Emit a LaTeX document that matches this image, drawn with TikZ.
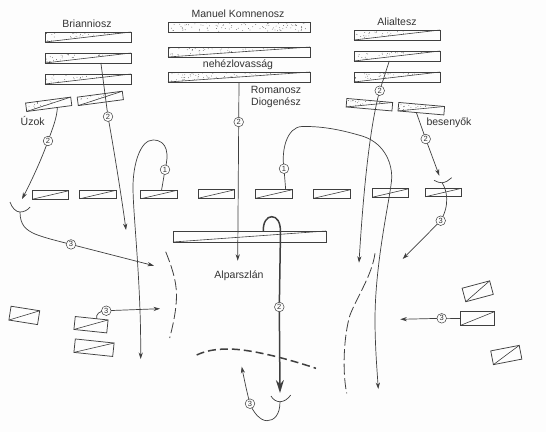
\documentclass[tikz,border=0pt]{standalone}
\usepackage{fontspec}
\setmainfont{Liberation Sans}
\usetikzlibrary{arrows.meta,calc,backgrounds}
\definecolor{ln}{HTML}{3F3F3F}
\definecolor{txt}{HTML}{333333}
\definecolor{paper}{HTML}{FDFDFD}
\tikzset{
  blockbox/.style={draw=ln,line width=.75pt,inner sep=0pt,outer sep=0pt,fill=none},
  diag/.style={draw=ln,line width=.6pt},
  conn/.style={draw=ln,line width=.7pt},
  tip/.style={-{Stealth[length=6.5pt,width=4.2pt]}},
  thickconn/.style={draw=ln,line width=1.5pt},
  num/.style={circle,draw=ln,fill=paper,line width=.5pt,inner sep=0pt,minimum size=9.6pt,font=\fontsize{7.5}{8}\selectfont,text=txt},
  lab/.style={font=\fontsize{10.5}{12}\selectfont,text=txt,inner sep=0pt},
  front/.style={draw=ln,line width=.8pt,dash pattern=on 11pt off 3.5pt},
  frontb/.style={draw=ln,line width=1.5pt,dash pattern=on 8pt off 4pt},
}
% name, centre, width, height, rotation, 0 plain / 1 dotted triangle / 2 dotted full
\newcommand{\blk}[6]{%
  \node[blockbox,minimum width=#3pt,minimum height=#4pt,rotate=#5] (#1) at (#2) {};
  \ifnum#6<2 \draw[diag] (#1.south west) -- (#1.north east);\fi
  \ifnum#6>0
  \begin{scope}[shift={(#1.center)},rotate=#5]
    \pgfmathtruncatemacro{\nd}{#3*#4/16}
    \foreach \i in {1,...,\nd}{
      \pgfmathsetmacro{\dx}{(rnd-.5)*(#3-1.5)}
      \pgfmathsetmacro{\dy}{(rnd-.5)*(#4-1.5)}
      \pgfmathtruncatemacro{\keep}{(#6==2)||(\dy/(#4)>\dx/(#3)+.04)?1:0}
      \ifnum\keep=1 \fill[ln] (\dx pt,\dy pt) circle (.38pt);\fi
    }
  \end{scope}
  \fi
}
\begin{document}
\begin{tikzpicture}[x=1pt,y=-1pt]
\useasboundingbox (0,0) rectangle (546,432);
\pgfmathsetseed{4711}
% numbered circles
\node[num] (n1) at (48,141) {2};
\node[num] (n2) at (108,116.7) {2};
\node[num] (n3) at (165,169.7) {1};
\node[num] (n4) at (238.7,122) {2};
\node[num] (n5) at (284,168.7) {1};
\node[num] (n6) at (379.7,90.7) {2};
\node[num] (n7) at (425.7,139) {2};
\node[num] (n8) at (71,244.4) {3};
\node[num] (n9) at (440.7,220.7) {3};
\node[num] (n10) at (106.3,310.7) {3};
\node[num] (n11) at (441.7,318.3) {3};
\node[num] (n12) at (279.3,307) {2};
\node[num] (n13) at (250,403.7) {3};
% labels
\node[lab] (t1) at (87,24) {Brianniosz};
\node[lab] (t2) at (32.7,121) {Úzok};
\node[lab] (t3) at (238,14) {Manuel Komnenosz};
\node[lab] (t4) at (238,65) {nehézlovasság};
\node[lab] (t5) at (276,90) {Romanosz};
\node[lab] (t6) at (276,103) {Diogenész};
\node[lab] (t7) at (397,22) {Alialtesz};
\node[lab] (t8) at (449,123) {besenyők};
\node[lab] (t9) at (239,276) {Alparszlán};
\begin{pgfonlayer}{background}
\fill[paper] (0,0) rectangle (546,432);
% heavy cavalry blocks
\blk{a1}{88,37}{86}{10}{0}{1}
\blk{a2}{88,58}{86}{10}{0}{1}
\blk{a3}{88,79}{86}{10}{0}{1}
\blk{a4}{48.7,104.3}{45.5}{8.5}{7.5}{1}
\blk{a5}{100.3,98.4}{45.5}{8.5}{7.5}{1}
\blk{m1}{239,27}{142}{10}{0}{2}
\blk{m2}{239,52}{142}{10}{0}{1}
\blk{m3}{239,77}{142}{10}{0}{1}
\blk{r1}{397,35}{86}{10}{0}{1}
\blk{r2}{397,56}{86}{10}{0}{1}
\blk{r3}{397,77}{86}{10}{0}{1}
\blk{r4}{369.4,104.7}{46}{8.5}{-5}{1}
\blk{r5}{421.3,108.7}{46}{8.5}{-5}{1}
% line blocks
\blk{c1}{50.5,195}{36.5}{8.5}{0}{0}
\blk{c2}{98,194.5}{36.5}{8.5}{0}{0}
\blk{c3}{159,194.5}{36.5}{8.5}{0}{0}
\blk{c4}{216.5,194}{36.5}{8.5}{0}{0}
\blk{c5}{274,194}{36.5}{8.5}{0}{0}
\blk{c6}{332,194}{36.5}{8.5}{0}{0}
\blk{c7}{390.5,193}{36.5}{8.5}{0}{0}
\blk{c8}{443.5,192.5}{36.5}{8.5}{0}{0}
\blk{big}{249.5,236.5}{153}{11}{0}{0}
\blk{l1}{24.3,315.4}{29}{14}{-9}{0}
\blk{l2}{91,324.7}{33}{13}{-6}{0}
\blk{l3}{94,347.7}{39}{13.5}{-6}{0}
\blk{q1}{477.7,291.3}{28.5}{14}{15}{0}
\blk{q2}{477.5,318.5}{33.6}{13.6}{0}{0}
\blk{q3}{506.3,355}{29}{14}{11}{0}
% connector ends
\coordinate (s1) at ($(a4.south west)!.68!(a4.south east)$);
\coordinate (e1) at (22,199);
\coordinate (s2) at ($(a2.south west)!.65!(a2.south east)$);
\coordinate (e2) at (126,230);
\coordinate (s3) at ($(c3.north west)!.57!(c3.north east)$);
\coordinate (e3) at (140.7,359);
\coordinate (s4) at ($(m3.south west)!.5!(m3.south east)$);
\coordinate (e4) at (237.7,260.7);
\coordinate (s5) at ($(c5.north west)!.83!(c5.north east)$);
\coordinate (s5) at ($(c5.north west)!.82!(c5.north east)$);
\coordinate (e5) at (378.3,389);
\coordinate (s6) at ($(r2.south west)!.41!(r2.south east)$);
\coordinate (e6) at (359,262.7);
\coordinate (s7) at ($(r5.south west)!.4!(r5.south east)$);
\coordinate (e7) at (439.3,175.7);
\coordinate (e8) at (154,265.7);
\coordinate (e9) at (402.7,259);
\coordinate (s10) at ($(l2.north west)!.65!(l2.north east)$);
\coordinate (e10) at (160,308.7);
\coordinate (e11) at (400.3,319.3);
\coordinate (s12) at ($(big.north west)!.59!(big.north east)$);
\coordinate (e12) at (280,393);
\coordinate (e13) at (241.7,366.7);
% hit arcs
\coordinate (h1a) at (10,202); \coordinate (h1) at (20,212); \coordinate (h1b) at (30,207);
\coordinate (h2a) at (434,180.3); \coordinate (h2) at (442,182.7); \coordinate (h2b) at (451.7,177.7);
\coordinate (h3a) at (271,396); \coordinate (h3) at (280,401.7); \coordinate (h3b) at (290.7,395);
\draw[conn] (h1a) .. controls (12,208) and (16,212) .. (h1) .. controls (24,212) and (28,210) .. (h1b);
\draw[conn] (h2a) .. controls (437,182) and (440,183) .. (h2) .. controls (446,182.5) and (449,180) .. (h2b);
\draw[conn] (h3a) .. controls (273,400) and (277,401.7) .. (h3) .. controls (284,401.7) and (288,399) .. (h3b);
% connectors
\draw[conn,tip] (s1) .. controls (57,118) and (52,130) .. (n1.center) .. controls (42,158) and (32,180) .. (e1);
\draw[conn,tip] (s2) -- (n2.center) .. controls (114,150) and (122,200) .. (e2);
\draw[conn,tip] (s3) -- (n3.center) .. controls (169,155) and (168,140) .. (153,140) .. controls (140,140) and (133,165) .. (133,187) .. controls (133,215) and (141,280) .. (e3);
\draw[conn,tip] (s4) -- (n4.center) -- (e4);
\draw[conn,tip] (s5) -- (n5.center) .. controls (281,150) and (287,127) .. (302,126.5) .. controls (325,126) and (345,131) .. (362,136) .. controls (382,142) and (392,160) .. (391.7,178) .. controls (391,195) and (375,260) .. (375,320) .. controls (375,345) and (377,370) .. (e5);
\draw[conn,tip] (s6) -- (n6.center) .. controls (371,122) and (364,180) .. (e6);
\draw[conn,tip] (s7) -- (n7.center) -- (e7);
\draw[conn,tip] (h1) .. controls (20,225) and (26,230) .. (35,234) .. controls (45,238) and (58,241) .. (n8.center) -- (e8);
\draw[conn,tip] (h2) .. controls (447,190) and (450,205) .. (n9.center) -- (e9);
\draw[conn] (s10) .. controls (96,314) and (99,311) .. (n10.center);
\draw[conn,tip] (n10.center) -- (e10);
\draw[conn,tip] (q2.west) -- (n11.center) -- (e11);
\draw[thickconn,-{Stealth[length=13pt,width=8pt]}] (s12) .. controls (263,222) and (267,216.7) .. (271.7,216.7) .. controls (277,216.7) and (280.5,222) .. (280.5,232) -- (n12.center) -- (e12);
\draw[conn,tip] (h3) .. controls (280,415) and (274,420.7) .. (267,420.7) .. controls (260,420.7) and (253,412) .. (n13.center) .. controls (247,393) and (244,378) .. (e13);
% front lines
\draw[front] (165.7,251.7) .. controls (171,265) and (176.5,280) .. (176.5,295) .. controls (176.5,310) and (173,325) .. (169.7,338);
\draw[frontb] (196.7,355) .. controls (205,351) and (215,349) .. (228,349) .. controls (250,349) and (285,358) .. (316,368.3);
\draw[front] (375,253.3) .. controls (372,275) and (358,295) .. (350,315) .. controls (344,335) and (342,370) .. (346.7,393.3);
\end{pgfonlayer}
\end{tikzpicture}
\end{document}
